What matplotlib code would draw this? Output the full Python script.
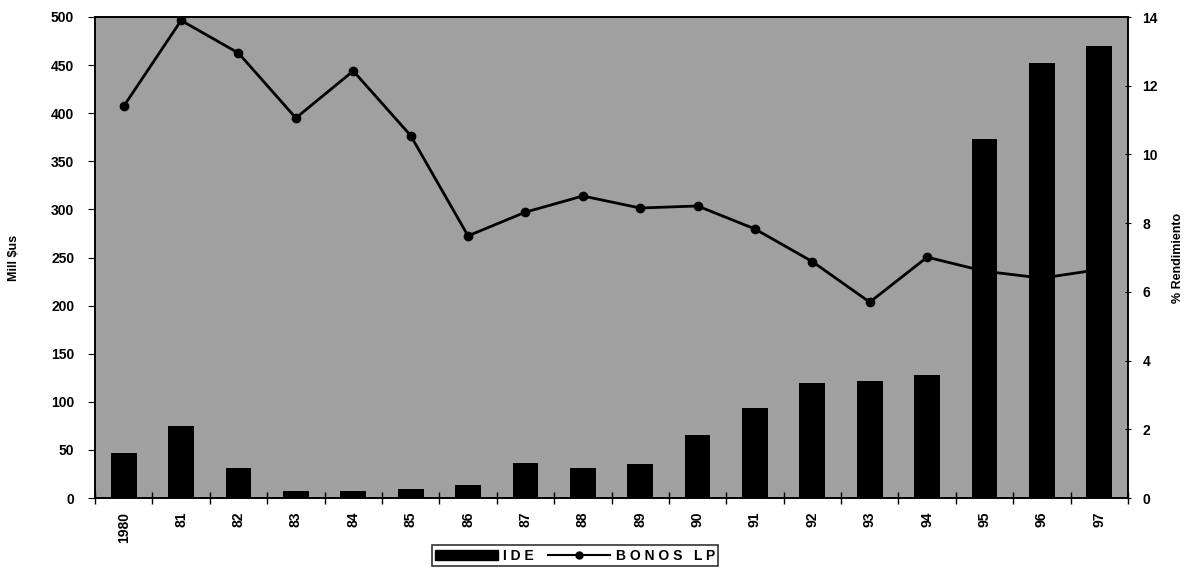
import matplotlib
matplotlib.use("Agg")
import matplotlib.pyplot as plt
import numpy as np
from matplotlib.lines import Line2D
from matplotlib.patches import Patch

years = ["1980", "81", "82", "83", "84", "85", "86", "87", "88",
         "89", "90", "91", "92", "93", "94", "95", "96", "97"]
ide = [47, 75, 31, 7, 7, 9, 13, 36, 31, 35, 65, 94, 120, 122, 128, 373, 452, 470]
bonos = [11.4, 13.9, 12.95, 11.06, 12.43, 10.55, 7.63, 8.32, 8.79, 8.44,
         8.5, 7.83, 6.88, 5.7, 7.01, 6.6, 6.4, 6.65]
left_ticks = [0, 50, 100, 150, 200, 250, 300, 350, 400, 450, 500]
right_ticks = [0, 2, 4, 6, 8, 10, 12, 14]

plt.rcParams['font.family'] = ['Liberation Sans', 'DejaVu Sans']
plt.rcParams['font.weight'] = 'bold'

fig = plt.figure(figsize=(11.89, 5.73), dpi=100)
ax = fig.add_axes([95/1189, 1 - 498/573, (1128-95)/1189, (498-17)/573])
ax2 = ax.twinx()

x = np.arange(len(years))
# line on right axis, drawn below bars
ax2.patch.set_visible(True)
ax2.set_facecolor('#a0a0a0')
ax2.plot(x, bonos, color='black', lw=2, marker='o', ms=6, zorder=2)
ax2.set_ylim(0, 14)
ax2.set_yticks(right_ticks)
ax2.set_ylabel('% Rendimiento', fontsize=9, fontweight='bold', labelpad=10)

ax.set_zorder(ax2.get_zorder() + 1)
ax.patch.set_visible(False)
ax.bar(x, ide, width=0.45, color='black', zorder=3)
ax.set_ylim(0, 500)
ax.set_xlim(-0.5, len(years) - 0.5)
ax.set_yticks(left_ticks)
ax.set_ylabel('Mill $us', fontsize=9, fontweight='bold', labelpad=22)

ax.set_xticks(x)
ax.set_xticklabels(years, rotation=90, fontsize=10, fontweight='bold')
ax.set_xticks(np.arange(len(years) + 1) - 0.5, minor=True)
ax.tick_params(axis='x', which='major', length=0, pad=10)
ax.tick_params(axis='x', which='minor', length=8, direction='inout', width=1)
ax.tick_params(axis='y', length=5, direction='out', labelsize=10, pad=10)
ax2.tick_params(axis='y', length=5, direction='inout', labelsize=10, pad=8)
for a in (ax, ax2):
    for s in a.spines.values():
        s.set_linewidth(1.2)
        s.set_color('black')

handles = [Patch(facecolor='black', edgecolor='black'),
           Line2D([0], [0], color='black', lw=1.5, marker='o', ms=5)]
leg = fig.legend(handles, ['I D E', 'B O N O S   L P'], loc='lower center',
                 bbox_to_anchor=(575/1189, 0.0), ncol=2, frameon=True,
                 fancybox=False, edgecolor='black', fontsize=10,
                 handlelength=4.5, handletextpad=0.4, columnspacing=1.0,
                 borderpad=0.25)
leg.get_frame().set_linewidth(1.2)

fig.savefig('out.png', dpi=100, facecolor='white')
